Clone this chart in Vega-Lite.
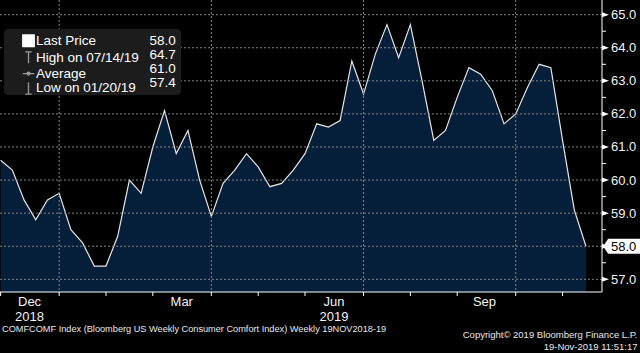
{
  "$schema": "https://vega.github.io/schema/vega-lite/v6.json",
  "width": 602,
  "height": 292,
  "autosize": {"type": "none"},
  "padding": {"left": 0, "top": 0, "right": 38, "bottom": 61},
  "background": "#000000",
  "config": {
    "view": {"stroke": null},
    "font": "Liberation Sans",
    "axis": {
      "labelColor": "#f2f2f2",
      "labelFont": "Liberation Sans",
      "labelFontSize": 13
    }
  },
  "title": {
    "text": "COMFCOMF Index (Bloomberg US Weekly Consumer Comfort Index)  Weekly 19NOV2018-19",
    "orient": "bottom",
    "anchor": "start",
    "frame": "group",
    "baseline": "top",
    "font": "Liberation Sans",
    "fontSize": 9.2,
    "fontWeight": "normal",
    "color": "#e8e8e8",
    "offset": 0,
    "dx": 2,
    "dy": -26
  },
  "datasets": {
    "series": [
      {"date": "2018-11-25", "value": 60.6},
      {"date": "2018-12-02", "value": 60.3},
      {"date": "2018-12-09", "value": 59.4},
      {"date": "2018-12-16", "value": 58.8},
      {"date": "2018-12-23", "value": 59.4},
      {"date": "2018-12-30", "value": 59.6},
      {"date": "2019-01-06", "value": 58.5},
      {"date": "2019-01-13", "value": 58.1},
      {"date": "2019-01-20", "value": 57.4},
      {"date": "2019-01-27", "value": 57.4},
      {"date": "2019-02-03", "value": 58.3},
      {"date": "2019-02-10", "value": 60.0},
      {"date": "2019-02-17", "value": 59.6},
      {"date": "2019-02-24", "value": 61.0},
      {"date": "2019-03-03", "value": 62.1},
      {"date": "2019-03-10", "value": 60.8},
      {"date": "2019-03-17", "value": 61.5},
      {"date": "2019-03-24", "value": 60.0},
      {"date": "2019-03-31", "value": 58.9},
      {"date": "2019-04-07", "value": 59.9},
      {"date": "2019-04-14", "value": 60.3},
      {"date": "2019-04-21", "value": 60.8},
      {"date": "2019-04-28", "value": 60.4},
      {"date": "2019-05-05", "value": 59.8},
      {"date": "2019-05-12", "value": 59.9},
      {"date": "2019-05-19", "value": 60.3},
      {"date": "2019-05-26", "value": 60.8},
      {"date": "2019-06-02", "value": 61.7},
      {"date": "2019-06-09", "value": 61.6},
      {"date": "2019-06-16", "value": 61.8},
      {"date": "2019-06-23", "value": 63.6},
      {"date": "2019-06-30", "value": 62.6},
      {"date": "2019-07-07", "value": 63.8},
      {"date": "2019-07-14", "value": 64.7},
      {"date": "2019-07-21", "value": 63.7},
      {"date": "2019-07-28", "value": 64.7},
      {"date": "2019-08-04", "value": 63.0},
      {"date": "2019-08-11", "value": 61.2},
      {"date": "2019-08-18", "value": 61.5},
      {"date": "2019-08-25", "value": 62.5},
      {"date": "2019-09-01", "value": 63.4},
      {"date": "2019-09-08", "value": 63.2},
      {"date": "2019-09-15", "value": 62.7},
      {"date": "2019-09-22", "value": 61.7},
      {"date": "2019-09-29", "value": 62.0},
      {"date": "2019-10-06", "value": 62.8},
      {"date": "2019-10-13", "value": 63.5},
      {"date": "2019-10-20", "value": 63.4},
      {"date": "2019-10-27", "value": 61.2},
      {"date": "2019-11-03", "value": 59.1},
      {"date": "2019-11-10", "value": 58.0}
    ],
    "legendRows": [
      {"name": "Last Price", "val": "58.0"},
      {"name": "High on 07/14/19", "val": "64.7"},
      {"name": "Average", "val": "61.0"},
      {"name": "Low on 01/20/19", "val": "57.4"}
    ],
    "gridY": [
      {"level": 57}, {"level": 58}, {"level": 59}, {"level": 60}, {"level": 61},
      {"level": 62}, {"level": 63}, {"level": 64}, {"level": 65}
    ],
    "minorY": [
      {"level": 57.5}, {"level": 58.5}, {"level": 59.5}, {"level": 60.5},
      {"level": 61.5}, {"level": 62.5}, {"level": 63.5}, {"level": 64.5}
    ],
    "gridX": [
      {"date": "2018-12-30"}, {"date": "2019-03-31"}, {"date": "2019-06-30"}, {"date": "2019-09-29"}
    ],
    "tickX": [
      {"date": "2018-11-25"}, {"date": "2018-12-30"}, {"date": "2019-01-27"}, {"date": "2019-02-24"},
      {"date": "2019-03-31"}, {"date": "2019-04-28"}, {"date": "2019-05-26"}, {"date": "2019-06-30"},
      {"date": "2019-07-28"}, {"date": "2019-08-25"}, {"date": "2019-09-29"}, {"date": "2019-10-27"}
    ]
  },
  "layer": [
    {
      "data": {"name": "series"},
      "mark": {
        "type": "area",
        "color": "#051e3a",
        "opacity": 1,
        "clip": true,
        "line": {"color": "#e6e6e6", "strokeWidth": 1.2}
      },
      "encoding": {
        "x": {
          "field": "date",
          "type": "temporal",
          "scale": {
            "domain": [
              {"year": 2018, "month": 11, "date": 24, "hours": 15},
              {"year": 2019, "month": 11, "date": 19, "hours": 14}
            ]
          },
          "axis": {
            "values": [
              {"year": 2018, "month": 12, "date": 12},
              {"year": 2019, "month": 3, "date": 13},
              {"year": 2019, "month": 6, "date": 12},
              {"year": 2019, "month": 9, "date": 10}
            ],
            "grid": false,
            "domain": false,
            "ticks": false,
            "labelExpr": "month(datum.value) == 11 ? ['Dec', '2018'] : month(datum.value) == 5 ? ['Jun', '2019'] : timeFormat(datum.value, '%b')",
            "labelAlign": "center",
            "labelBaseline": "top",
            "labelPadding": 3,
            "labelLineHeight": 15.5,
            "labelOverlap": false,
            "labelFlush": false,
            "title": ["Copyright© 2019 Bloomberg Finance L.P.", "19-Nov-2019 11:51:17"],
            "titleX": 637,
            "titleY": 37,
            "titleAlign": "right",
            "titleAnchor": "end",
            "titleBaseline": "top",
            "titleFont": "Liberation Sans",
            "titleFontSize": 9.5,
            "titleFontWeight": "normal",
            "titleColor": "#e8e8e8",
            "titleLineHeight": 12.5
          }
        },
        "y": {
          "field": "value",
          "type": "quantitative",
          "stack": null,
          "scale": {"domain": [56.616, 65.444], "zero": false, "nice": false},
          "axis": null
        }
      }
    },
    {
      "data": {"name": "gridY"},
      "mark": {"type": "rule", "color": "#858585", "strokeWidth": 1, "strokeDash": [2, 2], "opacity": 1},
      "encoding": {
        "y": {"field": "level", "type": "quantitative"}
      }
    },
    {
      "data": {"name": "gridX"},
      "mark": {"type": "rule", "color": "#858585", "strokeWidth": 1, "strokeDash": [2, 2], "opacity": 1},
      "encoding": {
        "x": {"field": "date", "type": "temporal"}
      }
    },
    {
      "data": {"values": [{}]},
      "mark": {"type": "rule", "color": "#ffffff", "strokeWidth": 1, "opacity": 1},
      "encoding": {
        "y": {"datum": 56.616, "type": "quantitative"}
      }
    },
    {
      "data": {"values": [{}]},
      "mark": {"type": "rule", "color": "#ffffff", "strokeWidth": 1, "opacity": 1},
      "encoding": {
        "x": {"datum": {"year": 2019, "month": 11, "date": 19, "hours": 14}, "type": "temporal"}
      }
    },
    {
      "data": {"name": "tickX"},
      "mark": {"type": "rule", "color": "#ffffff", "strokeWidth": 1, "opacity": 1, "clip": false},
      "encoding": {
        "x": {"field": "date", "type": "temporal"},
        "y": {"datum": 56.616, "type": "quantitative"},
        "y2": {"datum": 56.495}
      }
    },
    {
      "data": {"name": "minorY"},
      "mark": {"type": "rule", "color": "#ffffff", "strokeWidth": 1, "opacity": 1, "clip": false},
      "encoding": {
        "x": {"datum": {"year": 2019, "month": 11, "date": 19, "hours": 14}, "type": "temporal"},
        "x2": {"datum": {"year": 2019, "month": 11, "date": 21, "hours": 23}},
        "y": {"field": "level", "type": "quantitative"}
      }
    },
    {
      "data": {"name": "gridY"},
      "mark": {"type": "point", "shape": "M 0 -0.36 L 1 0 L 0 0.36 Z", "filled": true, "color": "#ffffff", "opacity": 1, "size": 196, "clip": false},
      "encoding": {
        "x": {"datum": {"year": 2019, "month": 11, "date": 19, "hours": 14}, "type": "temporal"},
        "y": {"field": "level", "type": "quantitative"}
      }
    },
    {
      "data": {"values": [{}]},
      "mark": {
        "type": "point",
        "shape": "M -1 0 L -0.73 -0.41 L 1 -0.41 L 1 0.41 L -0.73 0.41 Z",
        "filled": true,
        "color": "#ffffff",
        "opacity": 1,
        "size": 1369,
        "clip": false
      },
      "encoding": {
        "x": {"datum": {"year": 2019, "month": 12, "date": 1, "hours": 8}, "type": "temporal"},
        "y": {"datum": 58, "type": "quantitative"}
      }
    },
    {
      "data": {"name": "gridY"},
      "mark": {"type": "text", "align": "left", "baseline": "middle", "dx": 9, "dy": 0.5, "font": "Liberation Sans", "fontSize": 13, "clip": false},
      "encoding": {
        "x": {"datum": {"year": 2019, "month": 11, "date": 19, "hours": 14}, "type": "temporal"},
        "y": {"field": "level", "type": "quantitative"},
        "text": {"field": "level", "type": "quantitative", "format": ".1f"},
        "color": {"condition": {"test": "datum.level == 58", "value": "#000000"}, "value": "#f2f2f2"}
      }
    },
    {
      "data": {"name": "legendRows"},
      "mark": {"type": "point", "opacity": 0},
      "encoding": {
        "color": {
          "field": "val",
          "type": "nominal",
          "scale": {"domain": ["58.0", "64.7", "61.0", "57.4"], "range": ["#000000", "#000000", "#000000", "#000000"]},
          "legend": {
            "orient": "none",
            "legendX": 4,
            "legendY": 29,
            "padding": 5,
            "fillColor": "#1c1c1c",
            "cornerRadius": 4,
            "title": null,
            "symbolSize": 1,
            "symbolOpacity": 0,
            "labelOffset": 127,
            "labelFont": "Liberation Sans",
            "labelFontSize": 13.5,
            "labelColor": "#ffffff",
            "rowPadding": -1.2
          }
        }
      }
    },
    {
      "data": {"name": "legendRows"},
      "mark": {"type": "point", "opacity": 0},
      "encoding": {
        "shape": {
          "field": "name",
          "type": "nominal",
          "scale": {
            "domain": ["Last Price", "High on 07/14/19", "Average", "Low on 01/20/19"],
            "range": [
              "square",
              "M -0.55 -1 L 0.55 -1 M 0 -1 L 0 1",
              "M -1 0 L 1 0 M -0.25 0 A 0.25 0.25 0 1 1 0.25 0 A 0.25 0.25 0 1 1 -0.25 0",
              "M 0 -1 L 0 1 M -0.55 1 L 0.55 1"
            ]
          },
          "legend": {
            "orient": "none", "legendX": 16.75, "legendY": 29, "padding": 5, "title": null,
            "symbolSize": 132, "symbolOpacity": 1, "symbolStrokeWidth": 1.3, "labelOffset": 0.75,
            "labelFont": "Liberation Sans", "labelFontSize": 13.5, "labelColor": "#ffffff", "rowPadding": -1.2
          }
        },
        "fill": {
          "field": "name",
          "type": "nominal",
          "scale": {
            "domain": ["Last Price", "High on 07/14/19", "Average", "Low on 01/20/19"],
            "range": ["#ffffff", "#9a9a9a", "#9a9a9a", "#9a9a9a"]
          },
          "legend": {
            "orient": "none", "legendX": 16.75, "legendY": 29, "padding": 5, "title": null,
            "symbolSize": 132, "symbolOpacity": 1, "symbolStrokeWidth": 1.3, "labelOffset": 0.75,
            "labelFont": "Liberation Sans", "labelFontSize": 13.5, "labelColor": "#ffffff", "rowPadding": -1.2
          }
        },
        "stroke": {
          "field": "name",
          "type": "nominal",
          "scale": {
            "domain": ["Last Price", "High on 07/14/19", "Average", "Low on 01/20/19"],
            "range": ["#ffffff", "#9a9a9a", "#9a9a9a", "#9a9a9a"]
          },
          "legend": {
            "orient": "none", "legendX": 16.75, "legendY": 29, "padding": 5, "title": null,
            "symbolSize": 132, "symbolOpacity": 1, "symbolStrokeWidth": 1.3, "labelOffset": 0.75,
            "labelFont": "Liberation Sans", "labelFontSize": 13.5, "labelColor": "#ffffff", "rowPadding": -1.2
          }
        }
      }
    }
  ]
}
